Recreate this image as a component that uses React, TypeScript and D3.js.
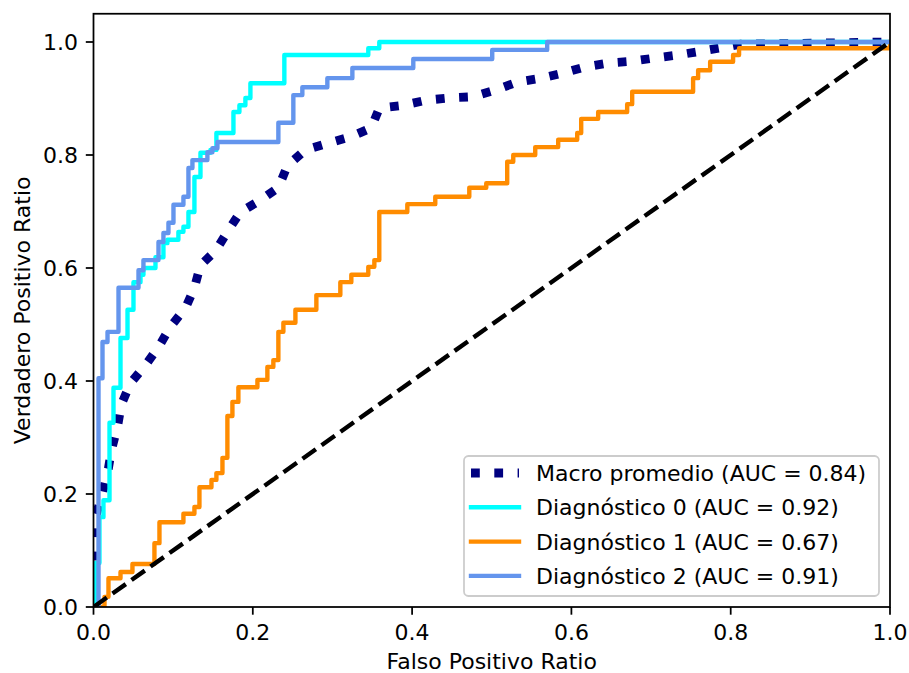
import React from 'react';
import * as d3 from 'd3';

const W = 909;
const H = 673;
const M = { left: 93.5, right: 890, top: 13.75, bottom: 607 };

const xTicks = [0, 0.2, 0.4, 0.6, 0.8, 1.0];
const yTicks = [0, 0.2, 0.4, 0.6, 0.8, 1.0];

// Macro average (piecewise linear)
const macroFpr = [0, 0.0025, 0.0113, 0.0188, 0.0226, 0.0301, 0.0351, 0.0464, 0.0652, 0.0816, 0.0966, 0.1154, 0.1267, 0.1343, 0.1531, 0.1694, 0.1844, 0.2095, 0.2321, 0.2434, 0.266, 0.2949, 0.3225, 0.3488, 0.3588, 0.389, 0.4178, 0.4467, 0.4755, 0.5044, 0.532, 0.5621, 0.5897, 0.6173, 0.6474, 0.6763, 0.7064, 0.734, 0.7641, 0.793, 0.8118, 1.0];
const macroTpr = [0, 0.159, 0.202, 0.246, 0.278, 0.319, 0.359, 0.396, 0.428, 0.46, 0.496, 0.529, 0.565, 0.605, 0.63, 0.667, 0.699, 0.72, 0.742, 0.781, 0.809, 0.821, 0.832, 0.848, 0.883, 0.888, 0.897, 0.901, 0.903, 0.915, 0.929, 0.936, 0.945, 0.956, 0.963, 0.966, 0.972, 0.977, 0.984, 0.991, 0.996, 1.0];

// Diagnóstico 0 (step points: fpr of each rise, tpr after the rise)
const diag0Fpr = [0, 0.0025, 0.0075, 0.0125, 0.0201, 0.0251, 0.0339, 0.0427, 0.0502, 0.059, 0.0627, 0.0778, 0.0878, 0.0928, 0.1066, 0.1129, 0.1192, 0.1267, 0.1343, 0.1468, 0.1543, 0.1757, 0.1832, 0.1907, 0.197, 0.2396, 0.345, 0.3588, 1.0];
const diag0Tpr = [0, 0.078, 0.159, 0.189, 0.326, 0.388, 0.476, 0.526, 0.575, 0.588, 0.6, 0.619, 0.644, 0.65, 0.664, 0.673, 0.699, 0.761, 0.804, 0.809, 0.839, 0.876, 0.888, 0.901, 0.927, 0.977, 0.989, 1.0, 1.0];

// Diagnóstico 1
const diag1Fpr = [0, 0.0138, 0.0188, 0.0339, 0.0489, 0.0765, 0.0828, 0.1129, 0.1267, 0.133, 0.1481, 0.1543, 0.1619, 0.1681, 0.1744, 0.1819, 0.2058, 0.2183, 0.2258, 0.2321, 0.2384, 0.2535, 0.2798, 0.3099, 0.3237, 0.345, 0.3526, 0.3588, 0.394, 0.4291, 0.4718, 0.4931, 0.5194, 0.527, 0.5546, 0.5834, 0.6073, 0.6123, 0.6336, 0.67, 0.6763, 0.7528, 0.7591, 0.7742, 0.803, 0.8105, 1.0];
const diag1Tpr = [0, 0.018, 0.051, 0.062, 0.076, 0.113, 0.15, 0.165, 0.177, 0.212, 0.225, 0.237, 0.264, 0.338, 0.363, 0.389, 0.402, 0.425, 0.437, 0.487, 0.503, 0.526, 0.552, 0.575, 0.588, 0.602, 0.614, 0.699, 0.713, 0.726, 0.742, 0.75, 0.788, 0.8, 0.814, 0.827, 0.839, 0.864, 0.876, 0.89, 0.912, 0.936, 0.95, 0.965, 0.977, 0.989, 1.0];

// Diagnóstico 2
const diag2Fpr = [0, 0.0063, 0.0113, 0.0176, 0.0314, 0.0565, 0.0627, 0.0816, 0.0878, 0.0941, 0.1004, 0.1129, 0.1192, 0.1242, 0.143, 0.1493, 0.1556, 0.2321, 0.2509, 0.2622, 0.2936, 0.325, 0.4015, 0.5006, 0.5696, 1.0];
const diag2Tpr = [0, 0.405, 0.469, 0.487, 0.565, 0.596, 0.614, 0.646, 0.662, 0.68, 0.712, 0.726, 0.777, 0.791, 0.805, 0.812, 0.823, 0.857, 0.906, 0.92, 0.936, 0.954, 0.97, 0.986, 1.0, 1.0];

const chanceFpr = [0, 1];
const chanceTpr = [0, 1];

const labels = [
  'Macro promedio (AUC = 0.84)',
  'Diagnóstico 0 (AUC = 0.92)',
  'Diagnóstico 1 (AUC = 0.67)',
  'Diagnóstico 2 (AUC = 0.91)',
];
const colors = ['#000080', '#00ffff', '#ff8c00', '#6495ed'];

const FONT = 'DejaVu Sans, sans-serif';

function zip(a: number[], b: number[]): [number, number][] {
  return a.map((v, i) => [v, b[i]] as [number, number]);
}

export default function App() {
  const x = d3.scaleLinear().domain([0, 1]).range([M.left, M.right]);
  const y = d3.scaleLinear().domain([0, 1.05]).range([M.bottom, M.top]);

  const lin = d3.line<[number, number]>().x(d => x(d[0])).y(d => y(d[1]));
  const step = d3
    .line<[number, number]>()
    .x(d => x(d[0]))
    .y(d => y(d[1]))
    .curve(d3.curveStepAfter);

  const lw = 4.4;
  const fs = 22;

  return (
    <svg
      width={W}
      height={H}
      viewBox={`0 0 ${W} ${H}`}
      style={{ position: 'absolute', left: 0, top: 0, background: '#fff' }}
      fontFamily={FONT}
    >
      <rect x={0} y={0} width={W} height={H} fill="#fff" />
      <defs>
        <clipPath id="plotclip">
          <rect x={M.left} y={M.top} width={M.right - M.left} height={M.bottom - M.top} />
        </clipPath>
      </defs>
      <g clipPath="url(#plotclip)">
        <path
          d={lin(zip(macroFpr, macroTpr)) || ''}
          fill="none"
          stroke={colors[0]}
          strokeWidth={lw * 2}
          strokeDasharray="8.8 14.5"
          strokeLinecap="butt"
          strokeLinejoin="round"
        />
        <path
          d={step(zip(diag0Fpr, diag0Tpr)) || ''}
          fill="none"
          stroke={colors[1]}
          strokeWidth={lw}
          strokeLinejoin="round"
          strokeLinecap="square"
        />
        <path
          d={step(zip(diag1Fpr, diag1Tpr)) || ''}
          fill="none"
          stroke={colors[2]}
          strokeWidth={lw}
          strokeLinejoin="round"
          strokeLinecap="square"
        />
        <path
          d={step(zip(diag2Fpr, diag2Tpr)) || ''}
          fill="none"
          stroke={colors[3]}
          strokeWidth={lw}
          strokeLinejoin="round"
          strokeLinecap="square"
        />
        <path
          d={lin(zip(chanceFpr, chanceTpr)) || ''}
          fill="none"
          stroke="#000"
          strokeWidth={lw}
          strokeDasharray="16.3 7"
          strokeLinecap="butt"
        />
      </g>

      {/* axes frame */}
      <rect
        x={M.left}
        y={M.top}
        width={M.right - M.left}
        height={M.bottom - M.top}
        fill="none"
        stroke="#000"
        strokeWidth={1.76}
      />

      {/* x ticks */}
      {xTicks.map(t => (
        <g key={'x' + t}>
          <line x1={x(t)} x2={x(t)} y1={M.bottom} y2={M.bottom + 7.7} stroke="#000" strokeWidth={1.76} />
          <text x={x(t)} y={M.bottom + 33} textAnchor="middle" fontSize={fs} fill="#000">
            {t.toFixed(1)}
          </text>
        </g>
      ))}
      {/* y ticks */}
      {yTicks.map(t => (
        <g key={'y' + t}>
          <line x1={M.left - 7.7} x2={M.left} y1={y(t)} y2={y(t)} stroke="#000" strokeWidth={1.76} />
          <text x={M.left - 15.4} y={y(t) + 8} textAnchor="end" fontSize={fs} fill="#000">
            {t.toFixed(1)}
          </text>
        </g>
      ))}

      <text x={(M.left + M.right) / 2} y={669} textAnchor="middle" fontSize={fs} fill="#000">
        Falso Positivo Ratio
      </text>
      <text
        transform={`translate(30, ${(M.top + M.bottom) / 2}) rotate(-90)`}
        textAnchor="middle"
        fontSize={fs}
        fill="#000"
      >
        Verdadero Positivo Ratio
      </text>

      {/* legend */}
      <g>
        <rect x={464} y={456} width={415} height={140} rx={4.4} fill="#fff" fillOpacity={0.8} stroke="#cccccc" strokeWidth={1.76} />
        {labels.map((lab, i) => {
          const cy = 473 + i * 34.3;
          return (
            <g key={lab}>
              <line
                x1={471}
                x2={519}
                y1={cy}
                y2={cy}
                stroke={colors[i]}
                strokeWidth={i === 0 ? lw * 2 : lw}
                strokeDasharray={i === 0 ? '8.8 14.5' : undefined}
                strokeLinecap={i === 0 ? 'butt' : 'square'}
              />
              <text x={536} y={cy + 8} fontSize={fs} fill="#000">
                {lab}
              </text>
            </g>
          );
        })}
      </g>
    </svg>
  );
}
